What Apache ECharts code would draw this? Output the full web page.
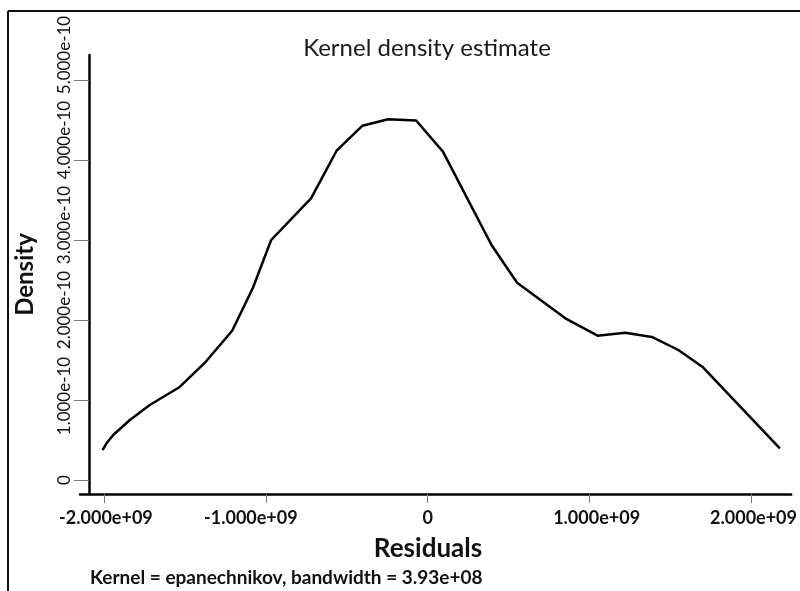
<!DOCTYPE html>
<html>
<head>
<meta charset="utf-8">
<title>Kernel density estimate</title>
<script src="https://cdn.jsdelivr.net/npm/echarts@6/dist/echarts.min.js"></script>
<style>
  html, body { margin: 0; padding: 0; background: #fff; }
  #chart { width: 800px; height: 591px; }
</style>
</head>
<body>
<div id="chart"></div>
<script>
// Evaluation points of the density estimate (residuals) and the estimated density
const residuals = [
  -2.009e9, -1.984e9, -1.943e9, -1.840e9, -1.717e9, -1.532e9, -1.378e9, -1.208e9, -1.081e9,
  -0.967e9, -0.721e9, -0.563e9, -0.403e9, -0.245e9, -0.072e9, 0.094e9, 0.244e9,
  0.394e9, 0.552e9, 0.850e9, 1.049e9, 1.220e9, 1.384e9, 1.548e9, 1.696e9, 2.175e9
];
const density = [
  0.375e-10, 0.459e-10, 0.563e-10, 0.750e-10, 0.938e-10, 1.163e-10, 1.463e-10, 1.866e-10, 2.396e-10,
  3.000e-10, 3.521e-10, 4.116e-10, 4.429e-10, 4.509e-10, 4.494e-10, 4.104e-10, 3.521e-10,
  2.938e-10, 2.466e-10, 2.021e-10, 1.804e-10, 1.841e-10, 1.788e-10, 1.625e-10, 1.416e-10, 0.396e-10
];

// Tick positions on each axis
const xTicks = [-2e9, -1e9, 0, 1e9, 2e9];
const yTicks = [0, 1e-10, 2e-10, 3e-10, 4e-10, 5e-10];

const titleText = 'Kernel density estimate';
const xName = 'Residuals';
const noteText = 'Kernel = epanechnikov, bandwidth = 3.93e+08';
const FONT = 'Lato, "Open Sans", sans-serif';

// Small per-label nudges along each axis (px): x labels to the right, y labels upward
const xLabelNudge = [2, -15, 0, 7, 2];
const yLabelNudge = [0, 4, 10, 15, 20, 25];

// Stata-style scientific notation: 2.000e+09, 1.000e-10, 0
function sci(v) {
  if (Math.abs(v) < 1e-40) return '0';
  let e = Math.floor(Math.log10(Math.abs(v)) + 1e-9);
  let m = v / Math.pow(10, e);
  const sign = e < 0 ? '-' : '+';
  return m.toFixed(3) + 'e' + sign + String(Math.abs(e)).padStart(2, '0');
}

function nudgeStyles(nudges, base) {
  const rich = {};
  nudges.forEach((d, i) => {
    const pad = d >= 0 ? [0, 0, 0, 2 * d] : [0, -2 * d, 0, 0];
    rich['n' + i] = Object.assign({ padding: pad }, base);
  });
  return rich;
}

const xLabelBase = { fontFamily: FONT, fontSize: 18, fontWeight: 'bold', color: '#111' };
const yLabelBase = { fontFamily: FONT, fontSize: 17, fontWeight: 'normal', color: '#111' };

const chart = echarts.init(document.getElementById('chart'), null, { renderer: 'canvas' });

chart.setOption({
  backgroundColor: '#fff',
  animation: false,
  grid: { left: 80, right: 7, top: 55, bottom: 97, containLabel: false },
  xAxis: {
    type: 'value',
    min: -2.148e9,
    max: 2.245e9,
    axisLine: { show: true, onZero: false, lineStyle: { color: '#000', width: 2.5 } },
    axisTick: { show: true, customValues: xTicks, length: 9, lineStyle: { color: '#777', width: 1 } },
    axisLabel: Object.assign({
      customValues: xTicks,
      formatter: v => '{n' + (Math.round(v / 1e9) + 2) + '|' + sci(v) + '}',
      margin: 15,
      hideOverlap: false,
      rich: nudgeStyles(xLabelNudge, xLabelBase)
    }, xLabelBase),
    splitLine: { show: false }
  },
  yAxis: {
    type: 'value',
    min: -0.175e-10,
    max: 5.3125e-10,
    offset: -9,
    name: 'Density',
    nameLocation: 'middle',
    nameGap: 52,
    nameTextStyle: { fontFamily: FONT, fontSize: 24, fontWeight: 'bold', color: '#111' },
    axisLine: { show: true, onZero: false, lineStyle: { color: '#000', width: 2.5 } },
    axisTick: { show: true, customValues: yTicks, length: 15, lineStyle: { color: '#777', width: 1 } },
    axisLabel: Object.assign({
      customValues: yTicks,
      formatter: v => '{n' + Math.round(v / 1e-10) + '|' + sci(v) + '}',
      rotate: 90,
      margin: 16,
      hideOverlap: false,
      showMaxLabel: true,
      rich: nudgeStyles(yLabelNudge, yLabelBase)
    }, yLabelBase),
    splitLine: { show: false }
  },
  graphic: [
    // outer frame (top and left edges)
    { type: 'line', shape: { x1: 8, y1: 11, x2: 800, y2: 11 }, style: { stroke: '#111', lineWidth: 2 } },
    { type: 'line', shape: { x1: 8, y1: 11, x2: 8, y2: 591 }, style: { stroke: '#111', lineWidth: 2 } },
    {
      type: 'text', x: 427, y: 48,
      style: { text: titleText, fontFamily: FONT, fontSize: 24, fontWeight: 'normal', fill: '#1a1a1a',
               textAlign: 'center', textVerticalAlign: 'middle' }
    },
    {
      type: 'text', x: 428, y: 549,
      style: { text: xName, fontFamily: FONT, fontSize: 26, fontWeight: 'bold', fill: '#111',
               textAlign: 'center', textVerticalAlign: 'middle' }
    },
    {
      type: 'text', x: 90, y: 578,
      style: { text: noteText, fontFamily: FONT, fontSize: 19, fontWeight: 'bold', fill: '#111',
               textVerticalAlign: 'middle' }
    }
  ],
  series: [{
    type: 'line',
    data: residuals.map((x, i) => [x, density[i]]),
    showSymbol: false,
    smooth: false,
    lineStyle: { color: '#000', width: 2.5, join: 'round' },
    silent: true
  }]
});
</script>
</body>
</html>
